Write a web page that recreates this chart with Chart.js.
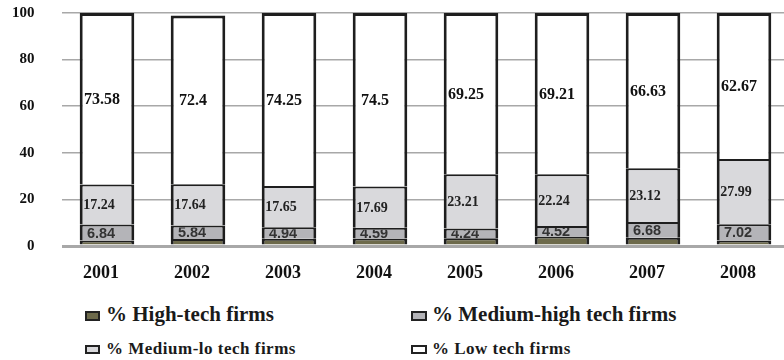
<!DOCTYPE html>
<html>
<head>
<meta charset="utf-8">
<script src="https://cdn.jsdelivr.net/npm/chart.js@4"></script>
<style>
  html, body { margin: 0; padding: 0; background: #fff; overflow: hidden; width: 784px; height: 360px; }
  #wrap { position: absolute; left: 0; top: 0; width: 800px; height: 300px; }
  .leg { position: absolute; font-family: 'Liberation Serif', 'Times New Roman', serif; font-weight: bold; color: #1a1a1a; white-space: nowrap; }
  .box { position: absolute; box-sizing: border-box; border: 2px solid #222; }
</style>
</head>
<body>
<div id="wrap"><canvas id="c" width="800" height="300"></canvas></div>
<div id="legend"></div>
<script>
// ---- data ----
const years = ['2001', '2002', '2003', '2004', '2005', '2006', '2007', '2008'];
const highTech   = [2.34, 3.00, 3.16, 3.22, 3.30, 4.03, 3.57, 2.32];
const mediumHigh = [6.84, 5.84, 4.94, 4.59, 4.24, 4.52, 6.68, 7.02];
const mediumLo   = [17.24, 17.64, 17.65, 17.69, 23.21, 22.24, 23.12, 27.99];
const lowTech    = [73.58, 72.4, 74.25, 74.5, 69.25, 69.21, 66.63, 62.67];
const seriesNames = ['% High-tech firms', '% Medium-high tech firms', '% Medium-lo tech firms', '% Low tech firms'];
const yTicks = [0, 20, 40, 60, 80, 100];

// ---- styles ----
const fills = ['#6d6a4b', '#b4b4b8', '#d9d9dc', '#ffffff'];
const edge = '#1e1e1e';
const labelStyles = [
  null,
  { font: 'bold 14.5px "Liberation Sans", Arial, sans-serif', color: '#333', dx: -6 },
  { font: 'bold 14px "Liberation Serif", serif', color: '#222', dx: -8 },
  { font: 'bold 16px "Liberation Serif", serif', color: '#111', dx: -5 }
];

const segLabels = {
  id: 'segLabels',
  afterDatasetsDraw(chart) {
    const ctx = chart.ctx;
    chart.data.datasets.forEach((ds, di) => {
      const st = labelStyles[di];
      if (!st) return;
      const meta = chart.getDatasetMeta(di);
      meta.data.forEach((bar, i) => {
        const half = bar.width / 2;
        const top = Math.min(bar.y, bar.base);
        const bottom = Math.max(bar.y, bar.base);
        ctx.save();
        ctx.beginPath();
        ctx.rect(bar.x - half + 3, top + 2, bar.width - 6, bottom - top - 2);
        ctx.clip();
        ctx.font = st.font;
        ctx.fillStyle = st.color;
        ctx.textAlign = 'center';
        ctx.textBaseline = 'middle';
        ctx.fillText(String(ds.data[i]), bar.x + st.dx, (top + bottom) / 2 + 1);
        ctx.restore();
      });
    });
  }
};

const seriesData = [highTech, mediumHigh, mediumLo, lowTech];
const datasets = seriesData.map((d, k) => ({
  label: seriesNames[k],
  data: d,
  backgroundColor: fills[k],
  borderColor: edge,
  borderWidth: { left: 3, right: 3, top: k === 3 ? 3 : 2, bottom: 0 },
  borderSkipped: false,
  barPercentage: 0.6,
  categoryPercentage: 1.0
}));

new Chart(document.getElementById('c'), {
  type: 'bar',
  data: { labels: years, datasets },
  options: {
    responsive: false,
    devicePixelRatio: 1,
    animation: false,
    layout: { padding: { top: 13, left: 0, right: 10.5, bottom: 0 } },
    plugins: { legend: { display: false }, tooltip: { enabled: false } },
    scales: {
      x: {
        stacked: true,
        grid: { display: false, drawTicks: false },
        border: { display: false },
        ticks: {
          color: '#111',
          font: { family: 'Liberation Serif', weight: 'bold', size: 18 },
          padding: 17,
          labelOffset: -6
        },
        afterFit(scale) { scale.height = 54; scale.paddingLeft = 0; scale.paddingRight = 0; }
      },
      y: {
        stacked: true,
        min: 0,
        max: 100,
        afterBuildTicks(scale) { scale.ticks = yTicks.map(v => ({ value: v })); },
        grid: {
          color: '#a8a8a8',
          lineWidth: (c) => (c.tick && c.tick.value === 0 ? 3 : 1.5),
          drawTicks: false
        },
        border: { display: false },
        ticks: {
          color: '#111',
          font: { family: 'Liberation Serif', weight: 'bold', size: 15 },
          padding: 27
        },
        afterFit(scale) { scale.width = 61.5; scale.paddingTop = 0; scale.paddingBottom = 0; }
      }
    }
  },
  plugins: [segLabels]
});

// ---- legend (HTML text) ----
const legendLayout = [
  { box: [85, 311, 15, 10], x: 106, y: 302, size: 21, ls: 0 },
  { box: [411, 311, 16, 10], x: 432, y: 302, size: 21, ls: 0 },
  { box: [85, 345, 15, 9], x: 106, y: 338, size: 17, ls: 0.5 },
  { box: [411, 345, 16, 9], x: 432, y: 338, size: 17, ls: 0.5 }
];
const legend = document.getElementById('legend');
seriesNames.forEach((name, k) => {
  const L = legendLayout[k];
  const b = document.createElement('div');
  b.className = 'box';
  b.style.left = L.box[0] + 'px';
  b.style.top = L.box[1] + 'px';
  b.style.width = L.box[2] + 'px';
  b.style.height = L.box[3] + 'px';
  b.style.background = fills[k];
  legend.appendChild(b);
  const t = document.createElement('div');
  t.className = 'leg';
  t.textContent = name;
  t.style.left = L.x + 'px';
  t.style.top = L.y + 'px';
  t.style.fontSize = L.size + 'px';
  t.style.lineHeight = (L.size + 4) + 'px';
  t.style.letterSpacing = L.ls + 'px';
  legend.appendChild(t);
});
</script>
</body>
</html>
